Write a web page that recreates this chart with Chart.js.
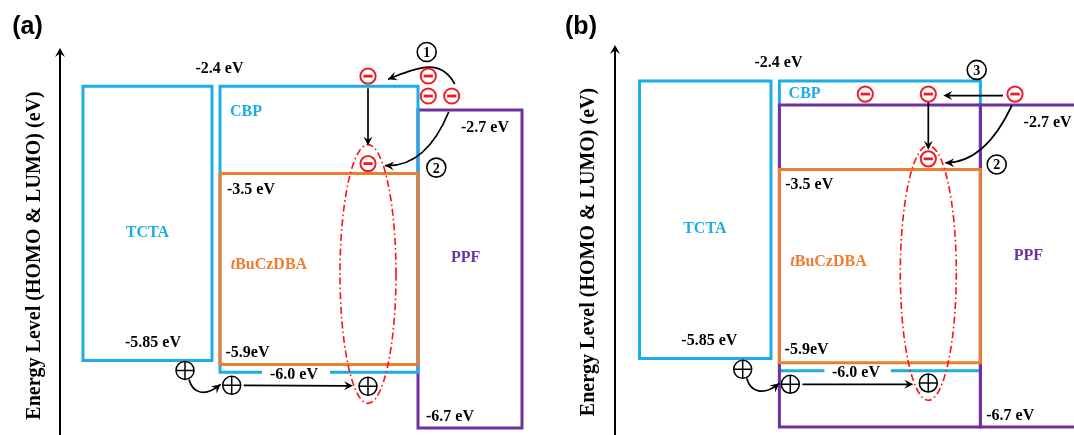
<!DOCTYPE html>
<html>
<head>
<meta charset="utf-8">
<script src="https://cdn.jsdelivr.net/npm/chart.js@4.4.1/dist/chart.umd.min.js"></script>
<style>
html, body { margin: 0; padding: 0; background: #fff; }
#wrap { position: relative; width: 1074px; height: 435px; overflow: hidden; background: #fff; }
#wrap canvas { position: absolute; top: 0; }
</style>
</head>
<body>
<div id="wrap">
  <canvas id="panelA" width="537" height="435" style="left:0"></canvas>
  <canvas id="panelB" width="537" height="435" style="left:537px"></canvas>
</div>
<script>
// ---- energy levels of each layer (eV) ----
const layerNames = ['TCTA', 'CBP', 'tBuCzDBA', 'PPF'];
const lumoEV = [-2.4, -2.4, -3.5, -2.7];
const homoEV = [-5.85, -6.0, -5.9, -6.7];
const lumoTicks = ['-2.4 eV', '-2.4 eV', '-3.5 eV', '-2.7 eV'];
const homoTicks = ['-5.85 eV', '-6.0 eV', '-5.9eV', '-6.7 eV'];
const panelTags = ['(a)', '(b)'];
const axisTitle = 'Energy Level (HOMO & LUMO) (eV)';
const stepLabels = ['1', '2', '3'];

// ---- styles ----
const layerColors = ['#1DADE6', '#1DADE6', '#ED7D31', '#7030A0'];
const SERIF = '"Liberation Serif", "Times New Roman", serif';
const SANS = '"Liberation Sans", Arial, sans-serif';
const RED = '#EE1C25';

// ---- panel layouts (x in units measured from the energy axis) ----
const layoutA = {
  tag: 0, tagX: 27.5, tagY: 27,
  padLeft: 0, titlePad: { top: 22.4, bottom: 13.6 }, plotTop: 76, tipY: 48,
  yMin: -6.788, yMax: -2.272, xMax: 477,
  boxes: [
    { layer: 0, x: [23, 152] },
    { layer: 3, x: [358, 462] },
    { layer: 1, x: [160, 358] },
    { layer: 2, x: [160, 358] }
  ],
  lumoLabels: [
    { layer: 1, x: 159.5, align: 'center', dy: -19 },
    { layer: 2, x: 167, align: 'left', dy: 15 },
    { layer: 3, x: 401, align: 'left', dy: 17 }
  ],
  homoLabels: [
    { layer: 0, x: 65, align: 'left', dy: -19 },
    { layer: 2, x: 165.5, align: 'left', dy: -13 },
    { layer: 1, x: 234, align: 'center', dy: 1, gap: [202, 270] },
    { layer: 3, x: 366, align: 'left', dy: -12 }
  ],
  nameLabels: [
    { layer: 0, x: 87.5, align: 'center', ref: 'mid', dy: 8 },
    { layer: 1, x: 170, align: 'left', ref: 'lumo', dy: 24 },
    { layer: 2, x: 170.7, align: 'left', ref: 'mid', dy: -5 },
    { layer: 3, x: 405.7, align: 'center', ref: 'mid', dy: -12 }
  ]
};

const layoutB = {
  tag: 1, tagX: 44, tagY: 27,
  padLeft: 0, titlePad: { top: 39.5, bottom: 14.5 }, plotTop: 69, tipY: 45,
  yMin: -6.799, yMax: -2.252, xMax: 459,
  boxes: [
    { layer: 0, x: [24.5, 156] },
    { layer: 1, x: [164.4, 365.4] },
    { layer: 3, x: [164.4, 365.4] },
    { layer: 3, x: [365.4, 490] },
    { layer: 2, x: [164.4, 365.4] }
  ],
  lumoLabels: [
    { layer: 1, x: 163.5, align: 'center', dy: -19 },
    { layer: 2, x: 170.2, align: 'left', dy: 14 },
    { layer: 3, x: 408.6, align: 'left', dy: 16 }
  ],
  homoLabels: [
    { layer: 0, x: 66.3, align: 'left', dy: -19 },
    { layer: 2, x: 169.6, align: 'left', dy: -14 },
    { layer: 1, x: 241, align: 'center', dy: 0.5, gap: [209.4, 275.8] },
    { layer: 3, x: 371.2, align: 'left', dy: -12 }
  ],
  nameLabels: [
    { layer: 0, x: 89.8, align: 'center', ref: 'mid', dy: 8 },
    { layer: 1, x: 173.6, align: 'left', ref: 'lumo', dy: 12 },
    { layer: 2, x: 175.3, align: 'left', ref: 'mid', dy: -5 },
    { layer: 3, x: 413.4, align: 'center', ref: 'mid', dy: -11 }
  ]
};

// ---- drawing helpers ----
function rectPoints(layer, span) {
  const lo = lumoEV[layer], hi = homoEV[layer];
  return [
    { x: span[0], y: lo }, { x: span[1], y: lo }, { x: span[1], y: hi },
    { x: span[0], y: hi }, { x: span[0], y: lo }
  ];
}

function drawText(ctx, text, x, cy, align, color, size, style) {
  ctx.font = (style || 'bold') + ' ' + size + 'px ' + SERIF;
  ctx.fillStyle = color;
  ctx.textAlign = align;
  ctx.textBaseline = 'alphabetic';
  ctx.fillText(text, x, cy + size * 0.34);
}

function drawLayerName(ctx, name, x, cy, align, color) {
  if (name === 'tBuCzDBA') {
    ctx.font = 'italic bold 16px ' + SERIF;
    const w1 = ctx.measureText('t').width;
    ctx.font = 'bold 16px ' + SERIF;
    const w2 = ctx.measureText('BuCzDBA').width;
    const x0 = align === 'center' ? x - (w1 + w2) / 2 : x;
    drawText(ctx, 't', x0, cy, 'left', color, 16, 'italic bold');
    drawText(ctx, 'BuCzDBA', x0 + w1, cy, 'left', color, 16, 'bold');
  } else {
    drawText(ctx, name, x, cy, align, color, 16, 'bold');
  }
}

function arrowHead(ctx, x, y, ang, len, half) {
  len = len || 9; half = half || 4.5;
  ctx.save();
  ctx.translate(x, y);
  ctx.rotate(ang);
  ctx.beginPath();
  ctx.moveTo(0, 0);
  ctx.lineTo(-len, -half);
  ctx.lineTo(-len * 0.62, 0);
  ctx.lineTo(-len, half);
  ctx.closePath();
  ctx.fill();
  ctx.restore();
}

function straightArrow(ctx, x0, y0, x1, y1) {
  ctx.strokeStyle = '#000'; ctx.fillStyle = '#000'; ctx.lineWidth = 1.7;
  const ang = Math.atan2(y1 - y0, x1 - x0);
  ctx.beginPath();
  ctx.moveTo(x0, y0);
  ctx.lineTo(x1 - Math.cos(ang) * 5, y1 - Math.sin(ang) * 5);
  ctx.stroke();
  arrowHead(ctx, x1, y1, ang);
}

function quadArrow(ctx, p0, c, p1) {
  ctx.strokeStyle = '#000'; ctx.fillStyle = '#000'; ctx.lineWidth = 1.7;
  ctx.beginPath();
  ctx.moveTo(p0.x, p0.y);
  ctx.quadraticCurveTo(c.x, c.y, p1.x, p1.y);
  ctx.stroke();
  arrowHead(ctx, p1.x, p1.y, Math.atan2(p1.y - c.y, p1.x - c.x));
}

function cubicArrow(ctx, p0, c1, c2, p1) {
  ctx.strokeStyle = '#000'; ctx.fillStyle = '#000'; ctx.lineWidth = 1.7;
  ctx.beginPath();
  ctx.moveTo(p0.x, p0.y);
  ctx.bezierCurveTo(c1.x, c1.y, c2.x, c2.y, p1.x, p1.y);
  ctx.stroke();
  arrowHead(ctx, p1.x, p1.y, Math.atan2(p1.y - c2.y, p1.x - c2.x));
}

function electron(ctx, p) {
  ctx.beginPath();
  ctx.arc(p.x, p.y, 7.6, 0, Math.PI * 2);
  ctx.fillStyle = '#fff'; ctx.fill();
  ctx.strokeStyle = RED; ctx.lineWidth = 2; ctx.stroke();
  ctx.fillStyle = RED;
  ctx.fillRect(p.x - 4.6, p.y - 1.4, 9.2, 2.8);
}

function hole(ctx, p) {
  const r = 9;
  ctx.beginPath();
  ctx.arc(p.x, p.y, r, 0, Math.PI * 2);
  ctx.fillStyle = '#fff'; ctx.fill();
  ctx.strokeStyle = '#000'; ctx.lineWidth = 1.5; ctx.stroke();
  ctx.beginPath();
  ctx.moveTo(p.x - r, p.y); ctx.lineTo(p.x + r, p.y);
  ctx.moveTo(p.x, p.y - r); ctx.lineTo(p.x, p.y + r);
  ctx.stroke();
}

function stepMark(ctx, x, y, text) {
  ctx.beginPath();
  ctx.arc(x, y, 9.5, 0, Math.PI * 2);
  ctx.strokeStyle = '#000'; ctx.lineWidth = 1.6; ctx.stroke();
  ctx.font = 'bold 14px ' + SERIF;
  ctx.fillStyle = '#000';
  ctx.textAlign = 'center';
  ctx.textBaseline = 'alphabetic';
  ctx.fillText(text, x, y + 5);
}

function recombinationZone(ctx, cx, top, bottom, a) {
  ctx.save();
  ctx.strokeStyle = '#FF1010';
  ctx.lineWidth = 1.6;
  ctx.setLineDash([7, 3, 1.6, 3]);
  ctx.beginPath();
  ctx.ellipse(cx, (top + bottom) / 2, a, (bottom - top) / 2, 0, 0, Math.PI * 2);
  ctx.stroke();
  ctx.restore();
}

// ---- carrier paths, panel (a): electrons hop from PPF via CBP into the emitter ----
function carriersA(ctx, X, Y) {
  const lu24 = Y(lumoEV[1]), lu27 = Y(lumoEV[3]), lu35 = Y(lumoEV[2]);
  const ho585 = Y(homoEV[0]), ho60 = Y(homoEV[1]);
  const cx = X(308);
  recombinationZone(ctx, cx, lu35 - 29, ho60 + 31, 28);

  const e1 = { x: cx, y: lu24 - 10 };
  const e2 = { x: cx, y: lu35 - 10 };
  const s1 = { x: X(368.3), y: lu27 - 34 };
  const s2 = { x: X(368.3), y: lu27 - 14 };
  const s3 = { x: X(391.7), y: lu27 - 14 };

  const a0 = { x: s3.x + 3, y: s3.y - 12 };
  const a3 = { x: e1.x + 20, y: e1.y + 3 };
  cubicArrow(ctx, a0, { x: a0.x - 15, y: a0.y - 28 }, { x: a3.x + 26, y: a3.y - 10 }, a3);
  straightArrow(ctx, cx, e1.y + 12, cx, e2.y - 18);
  const b0 = { x: s3.x - 3, y: s3.y + 16 };
  const b2 = { x: e2.x + 17, y: e2.y + 2 };
  quadArrow(ctx, b0, { x: b0.x - 23, y: b2.y + 2 }, b2);

  [e1, e2, s1, s2, s3].forEach(p => electron(ctx, p));
  stepMark(ctx, X(366.7), lu27 - 58, stepLabels[0]);
  stepMark(ctx, X(376.3), lu35 - 6, stepLabels[1]);

  const h1 = { x: X(125), y: ho585 + 10 };
  const h2 = { x: X(171.7), y: ho60 + 13 };
  const h3 = { x: cx, y: ho60 + 14 };
  const c0 = { x: h1.x + 4, y: h1.y + 9 };
  const c3 = { x: h2.x - 11, y: h2.y - 1 };
  cubicArrow(ctx, c0, { x: c0.x + 4, y: c0.y + 14 }, { x: c3.x - 16, y: c3.y + 13 }, c3);
  straightArrow(ctx, h2.x + 12, h2.y, h3.x - 15, h2.y + 0.5);
  [h1, h2, h3].forEach(p => hole(ctx, p));
}

// ---- carrier paths, panel (b): PPF co-host carries electrons inside the emitting layer ----
function carriersB(ctx, X, Y) {
  const lu24 = Y(lumoEV[1]), lu27 = Y(lumoEV[3]), lu35 = Y(lumoEV[2]);
  const ho585 = Y(homoEV[0]), ho60 = Y(homoEV[1]);
  const cx = X(313.3);
  recombinationZone(ctx, cx, lu35 - 24, ho60 + 29.6, 28);

  const ea = { x: X(250.3), y: lu27 - 11 };
  const eb = { x: cx, y: lu27 - 11 };
  const ec = { x: X(400), y: lu27 - 11 };
  const ed = { x: cx, y: lu35 - 10.6 };

  straightArrow(ctx, ec.x - 12, ec.y + 1.5, eb.x + 15, eb.y + 1.5);
  straightArrow(ctx, cx, eb.y + 7, cx, ed.y - 9);
  const b0 = { x: ec.x - 3, y: ec.y + 11 };
  const b2 = { x: ed.x + 17, y: ed.y + 4 };
  quadArrow(ctx, b0, { x: b0.x - 27, y: b2.y }, b2);

  [ea, eb, ec, ed].forEach(p => electron(ctx, p));
  stepMark(ctx, X(361.7), lu24 - 11, stepLabels[2]);
  stepMark(ctx, X(381.7), lu35 - 5, stepLabels[1]);

  const h1 = { x: X(127.7), y: ho585 + 10.7 };
  const h2 = { x: X(175.3), y: ho60 + 13.6 };
  const h3 = { x: cx, y: ho60 + 12.3 };
  const c0 = { x: h1.x + 4, y: h1.y + 9 };
  const c3 = { x: h2.x - 11, y: h2.y - 1 };
  cubicArrow(ctx, c0, { x: c0.x + 4, y: c0.y + 14 }, { x: c3.x - 16, y: c3.y + 13 }, c3);
  straightArrow(ctx, h2.x + 12, h2.y, h3.x - 15, h2.y);
  [h1, h2, h3].forEach(p => hole(ctx, p));
}

// ---- overlay: axis arrow, panel tag, level labels and carriers ----
function bandOverlay(P, carriers) {
  return {
    id: 'bandOverlay',
    afterDraw(chart) {
      const ctx = chart.ctx;
      const xs = chart.scales.x, ys = chart.scales.y;
      const X = u => xs.getPixelForValue(u);
      const Y = e => ys.getPixelForValue(e);
      const area = chart.chartArea;
      ctx.save();

      // energy axis arrow
      ctx.strokeStyle = '#000'; ctx.fillStyle = '#000'; ctx.lineWidth = 2;
      ctx.beginPath();
      ctx.moveTo(area.left, area.top + 2);
      ctx.lineTo(area.left, P.tipY + 5);
      ctx.stroke();
      arrowHead(ctx, area.left, P.tipY, -Math.PI / 2, 9, 5);

      // panel tag
      ctx.font = 'bold 25px ' + SANS;
      ctx.fillStyle = '#000';
      ctx.textAlign = 'center';
      ctx.textBaseline = 'middle';
      ctx.fillText(panelTags[P.tag], P.tagX, P.tagY);

      // level values
      P.lumoLabels.forEach(l => {
        drawText(ctx, lumoTicks[l.layer], X(l.x), Y(lumoEV[l.layer]) + l.dy, l.align, '#000', 16);
      });
      P.homoLabels.forEach(l => {
        const y = Y(homoEV[l.layer]);
        if (l.gap) {
          ctx.fillStyle = '#fff';
          ctx.fillRect(X(l.gap[0]), y - 3, X(l.gap[1]) - X(l.gap[0]), 6);
        }
        drawText(ctx, homoTicks[l.layer], X(l.x), y + l.dy, l.align, '#000', 16);
      });

      // layer names
      P.nameLabels.forEach(l => {
        const lo = Y(lumoEV[l.layer]), hi = Y(homoEV[l.layer]);
        const base = l.ref === 'mid' ? (lo + hi) / 2 : lo;
        drawLayerName(ctx, layerNames[l.layer], X(l.x), base + l.dy, l.align, layerColors[l.layer]);
      });

      carriers(ctx, X, Y);
      ctx.restore();
    }
  };
}

function buildPanel(canvasId, P, carriers) {
  const n = P.boxes.length;
  const datasets = P.boxes.map((b, i) => ({
    label: layerNames[b.layer],
    data: rectPoints(b.layer, b.x),
    showLine: true,
    fill: false,
    tension: 0,
    borderColor: layerColors[b.layer],
    borderWidth: 3,
    borderJoinStyle: 'miter',
    borderCapStyle: 'square',
    pointRadius: 0,
    order: n - i
  }));

  return new Chart(document.getElementById(canvasId), {
    type: 'scatter',
    data: { datasets },
    options: {
      responsive: false,
      animation: false,
      devicePixelRatio: 1,
      events: [],
      layout: { padding: { left: P.padLeft, top: P.plotTop, right: 0, bottom: 0 } },
      plugins: { legend: { display: false }, tooltip: { enabled: false } },
      scales: {
        x: { type: 'linear', display: false, min: 0, max: P.xMax },
        y: {
          type: 'linear', position: 'left', min: P.yMin, max: P.yMax,
          grid: { display: false, drawTicks: false },
          ticks: { display: false },
          border: { display: true, color: '#000', width: 2 },
          title: {
            display: true, text: axisTitle, color: '#000',
            font: { family: SERIF, size: 20, weight: 'bold' },
            padding: P.titlePad
          }
        }
      }
    },
    plugins: [bandOverlay(P, carriers)]
  });
}

buildPanel('panelA', layoutA, carriersA);
buildPanel('panelB', layoutB, carriersB);
</script>
</body>
</html>
